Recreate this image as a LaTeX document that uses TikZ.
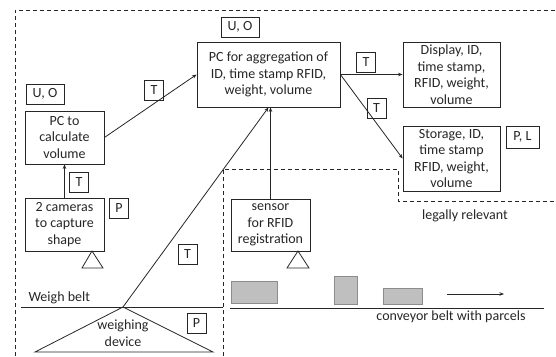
\documentclass[tikz,border=0pt]{standalone}
\usepackage{fontspec}
\setmainfont{Carlito}
\usetikzlibrary{arrows.meta}
\definecolor{ink}{HTML}{262626}
\definecolor{parcel}{HTML}{BFBFBF}
\definecolor{parcelb}{HTML}{8C8C8C}
\begin{document}
\begin{tikzpicture}[x=1pt,y=-1pt,
  every node/.style={font=\fontsize{14}{16.5}\selectfont, text=ink},
  box/.style={draw=ink, line width=0.8pt, rectangle, inner sep=0pt, align=center},
  tag/.style={box, minimum width=19pt, minimum height=20pt},
  conn/.style={draw=ink, line width=0.8pt, -{Stealth[length=4.5pt,width=3.5pt]}},
  plain/.style={draw=ink, line width=0.8pt},
  dashline/.style={draw=ink, line width=0.8pt, dash pattern=on 4pt off 3pt},
  parcelbox/.style={fill=parcel, draw=parcelb, line width=0.8pt}]
\useasboundingbox (0,0) rectangle (556,356);
% dashed regions
\draw[dashline] (15,356) -- (15,10) -- (556,10);
\draw[dashline] (223,356) -- (223,169) -- (398,169) -- (398,201) -- (556,201);
% boxes
\node[box, minimum width=38pt, minimum height=20pt] (uo1) at (45,94) {U, O};
\node[box, minimum width=79pt, minimum height=53pt] (pccalc) at (64.5,137.5) {PC to\\calculate\\volume};
\node[box, minimum width=38pt, minimum height=20pt] (uo2) at (240,27) {U, O};
\node[box, minimum width=143pt, minimum height=65pt] (pcagg) at (268.5,74.5) {PC for aggregation of\\ID, time stamp RFID,\\weight, volume};
\node[box, minimum width=97pt, minimum height=65pt] (disp) at (451.5,74.5) {Display, ID,\\time stamp,\\RFID, weight,\\volume};
\node[box, minimum width=97pt, minimum height=65pt] (stor) at (451.5,158.5) {Storage, ID,\\time stamp\\RFID, weight,\\volume};
\node[box, minimum width=33pt, minimum height=22pt] (pl) at (522.5,137) {P, L};
\node[box, minimum width=79pt, minimum height=53pt] (cam) at (64.5,224.5) {2 cameras\\to capture\\shape};
\node[box, minimum width=79pt, minimum height=52pt] (sensor) at (270.5,225) {sensor\\for RFID\\registration};
% tags
\node[tag] (t1) at (154,90.5) {T};
\node[tag] (t2) at (366,62.5) {T};
\node[tag] (t3) at (376.5,108.5) {T};
\node[tag] (t4) at (79,182.5) {T};
\node[tag] (t5) at (187.5,254) {T};
\node[tag] (p1) at (119,208.5) {P};
\node[tag] (p2) at (196.5,323.5) {P};
% connectors
\draw[conn] (pccalc.east) -- (pcagg.west);
\draw[conn] (cam.north) -- (pccalc.south);
\draw[conn] (pcagg.east) -- (disp.west);
\draw[conn] (pcagg.east) -- (stor.west);
\coordinate (wapex) at (123,307);
\draw[conn] (wapex) -- (pcagg.south);
\draw[conn] (sensor.north) -- (sensor.north |- pcagg.south);
% small triangles
\draw[plain] (92,251) -- (82,268) -- (103,268) -- cycle;
\draw[plain] (298,251) -- (287,268) -- (309,268) -- cycle;
% belts
\node[anchor=west] (wb) at (25,298) {Weigh belt};
\draw[plain] (21,307) -- (223,307);
\draw[plain] (230,308) -- (544,308);
% weighing device
\draw[plain] (wapex) -- (35,352) -- (213,352) -- cycle;
\node[align=center] (wd) at (123,333) {weighing\\device};
% parcels
\draw[parcelbox] (231,281) rectangle (277,303);
\draw[parcelbox] (334,276) rectangle (357,304);
\draw[parcelbox] (383,288) rectangle (422,304);
\coordinate (mva) at (447,294);
\coordinate (mvb) at (504,294);
\draw[conn] (mva) -- (mvb);
\node (cb) at (451,317) {conveyor belt with parcels};
\node (lr) at (465,216) {legally relevant};
\end{tikzpicture}
\end{document}
